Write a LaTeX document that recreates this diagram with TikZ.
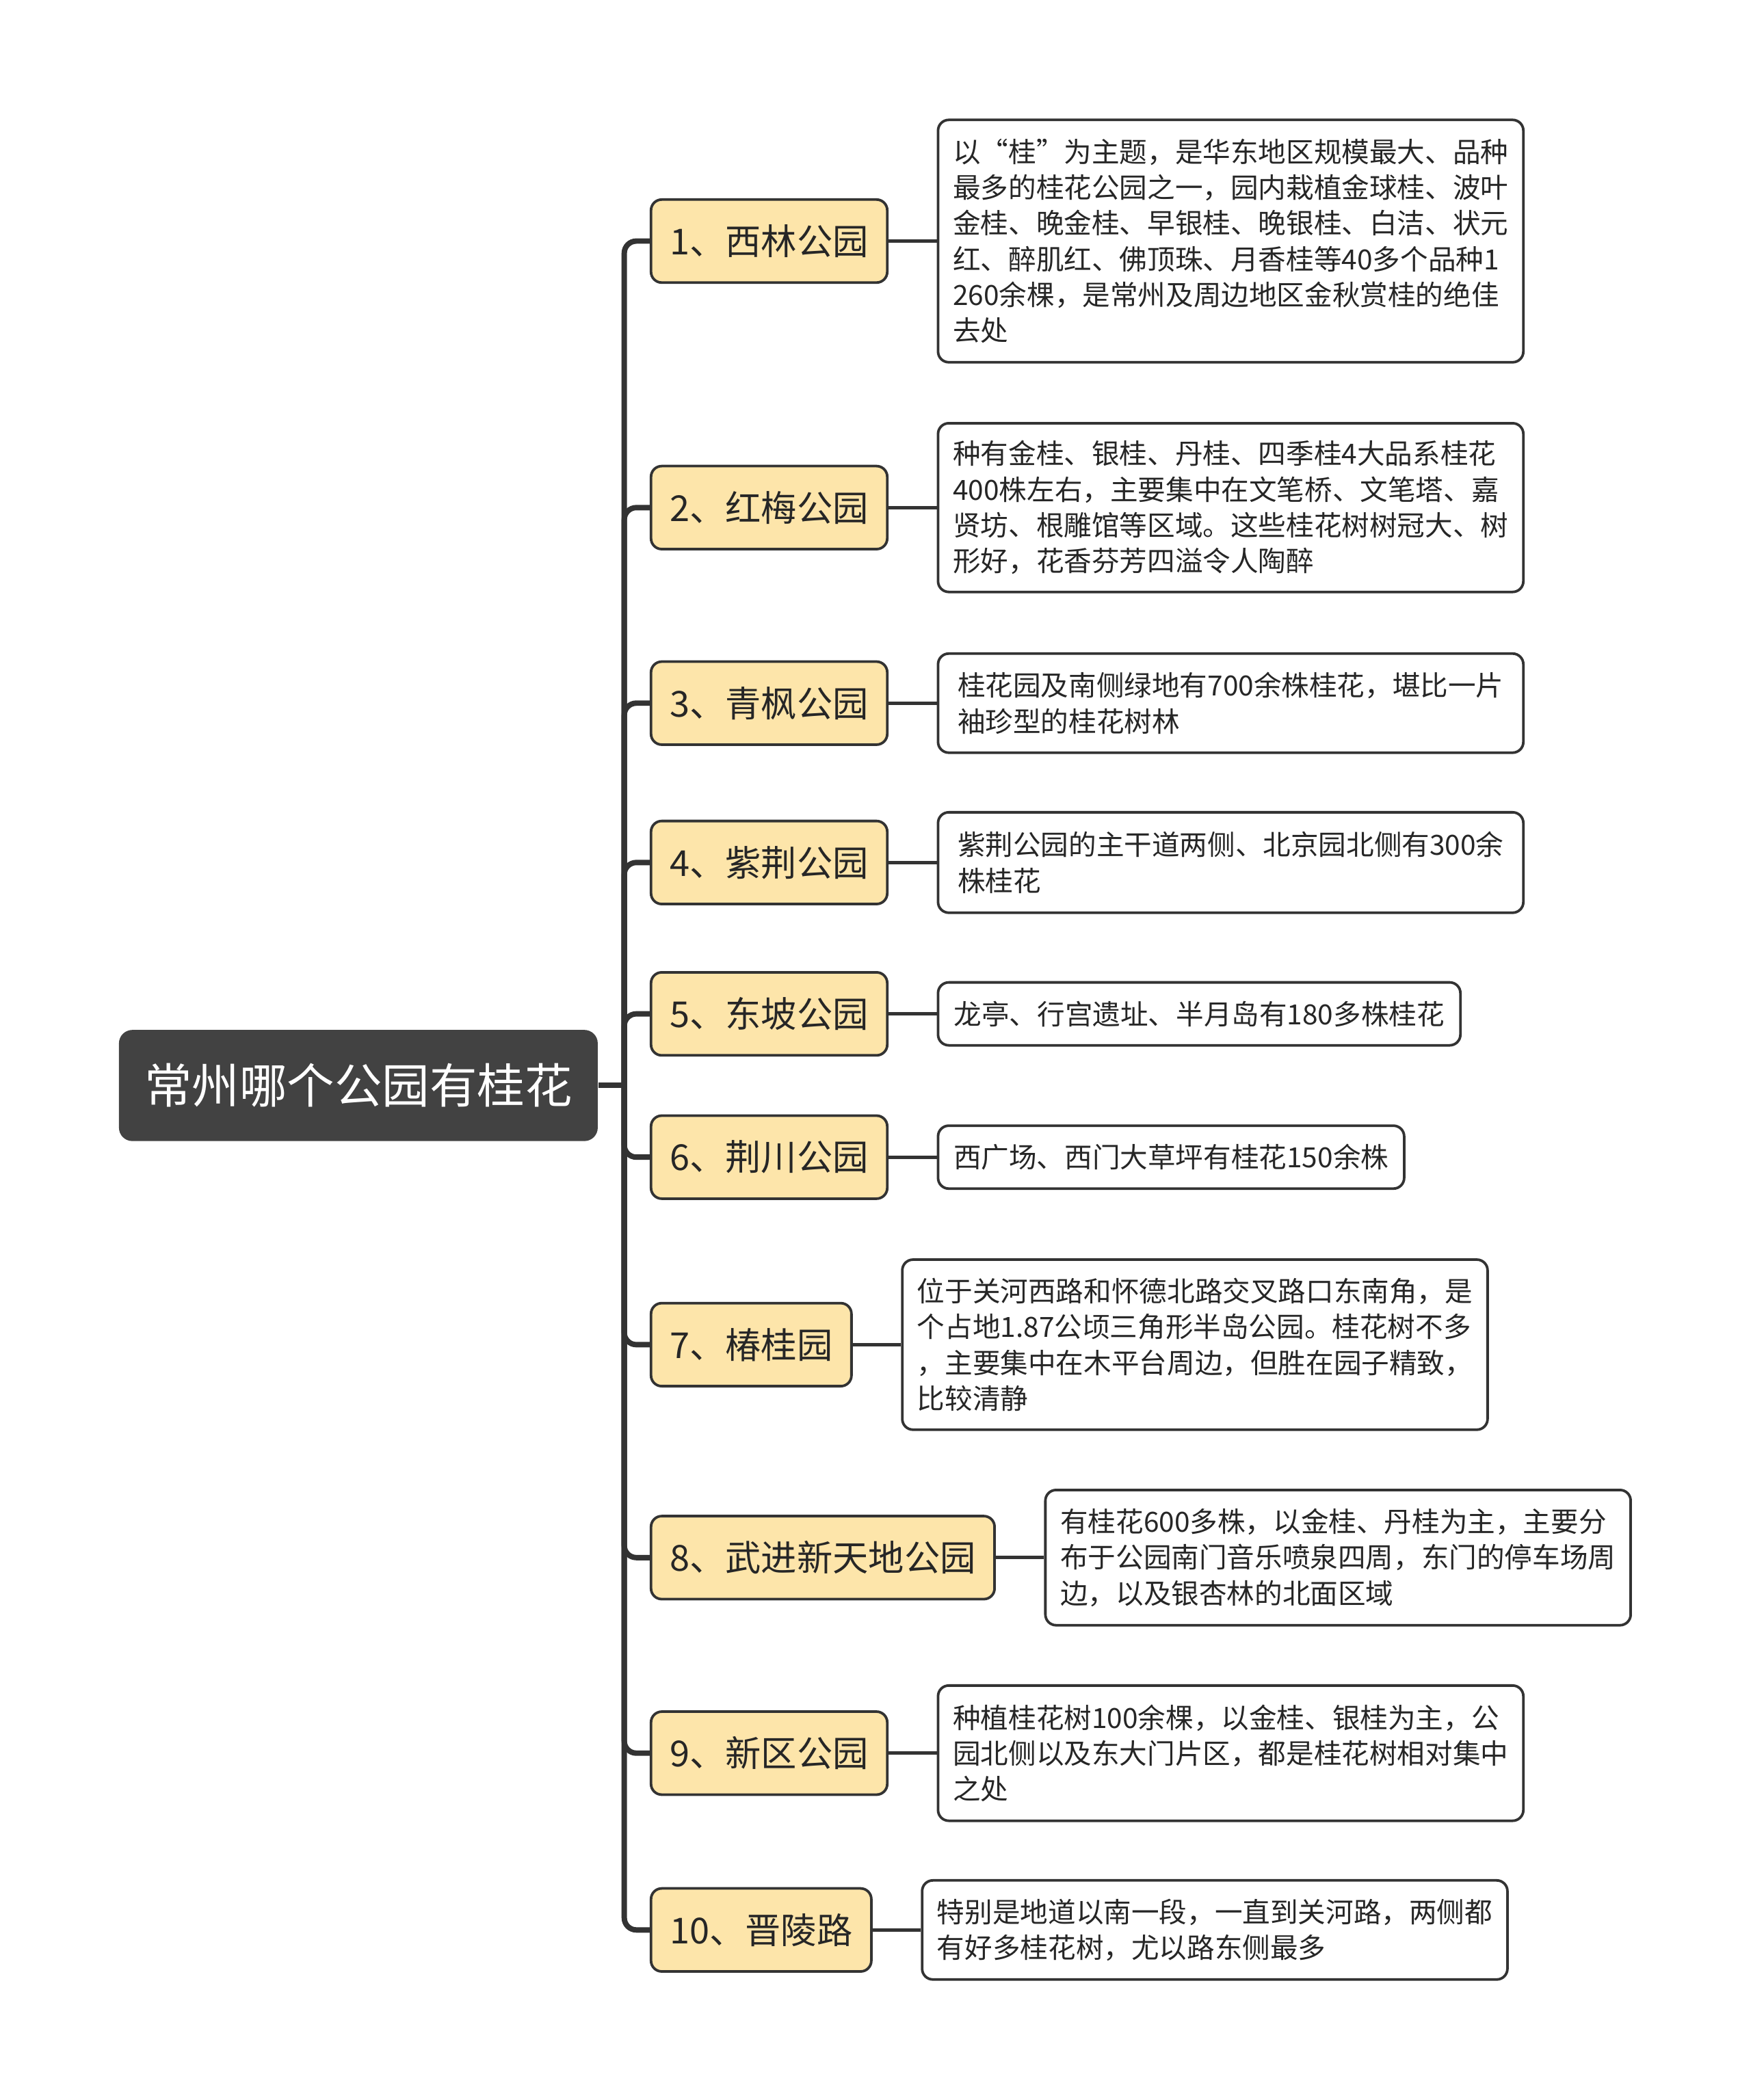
\documentclass[tikz,border=0pt]{standalone}
\usepackage{fontspec}
\setmainfont{Noto Sans CJK SC}
\usetikzlibrary{positioning}
\definecolor{rootgray}{RGB}{66,66,66}
\definecolor{linegray}{RGB}{51,51,51}
\definecolor{parkyellow}{RGB}{253,229,170}
\definecolor{textgray}{RGB}{38,38,38}

\begin{document}
\begin{tikzpicture}[x=0.02cm, y=-0.02cm,
  rootbox/.style={fill=rootgray, text=white, rounded corners=0.2cm, inner xsep=0.38cm,
    minimum width=7.14cm, minimum height=1.66cm, font=\fontsize{20.2}{24}\selectfont},
  park/.style={draw=linegray, line width=1.1pt, fill=parkyellow, text=textgray,
    rounded corners=0.16cm, inner xsep=0.28cm, minimum height=1.24cm, anchor=west,
    font=\fontsize{15.2}{18}\selectfont},
  note/.style={draw=linegray, line width=1.1pt, fill=white, text=textgray,
    rounded corners=0.16cm, inner xsep=0.22cm, inner ysep=0pt, align=left,
    minimum width=8.74cm, font=\fontsize{11.8}{15.2}\selectfont, right=0.72cm of #1},
  trunk/.style={draw=linegray, line width=2.3pt, rounded corners=0.18cm},
  twig/.style={draw=linegray, line width=1.4pt}]
  \useasboundingbox (0,0) rectangle (1307,1568);

  % central topic
  \node[rootbox] (root) at (267.5,810.5) {常州哪个公园有桂花};
  \coordinate (hub) at (466,810.5);

  % parks
  \node[park] (b1) at (485,180) {1、西林公园};
  \node[park] (b2) at (485,379) {2、红梅公园};
  \node[park] (b3) at (485,525) {3、青枫公园};
  \node[park] (b4) at (485,644) {4、紫荆公园};
  \node[park] (b5) at (485,757) {5、东坡公园};
  \node[park] (b6) at (485,864) {6、荆川公园};
  \node[park] (b7) at (485,1004) {7、椿桂园};
  \node[park] (b8) at (485,1163) {8、武进新天地公园};
  \node[park] (b9) at (485,1309) {9、新区公园};
  \node[park] (b10) at (485,1441) {10、晋陵路};

  % notes
  \node[note=b1, minimum height=3.62cm] (n1) {以“桂”为主题，是华东地区规模最大、品种\\最多的桂花公园之一，园内栽植金球桂、波叶\\金桂、晚金桂、早银桂、晚银桂、白洁、状元\\红、醉肌红、佛顶珠、月香桂等40多个品种1\\260余棵，是常州及周边地区金秋赏桂的绝佳\\去处};
  \node[note=b2, minimum height=2.52cm] (n2) {种有金桂、银桂、丹桂、四季桂4大品系桂花\\400株左右，主要集中在文笔桥、文笔塔、嘉\\贤坊、根雕馆等区域。这些桂花树树冠大、树\\形好，花香芬芳四溢令人陶醉};
  \node[note=b3, minimum height=1.48cm] (n3) {桂花园及南侧绿地有700余株桂花，堪比一片\\袖珍型的桂花树林};
  \node[note=b4, minimum height=1.5cm] (n4) {紫荆公园的主干道两侧、北京园北侧有300余\\株桂花};
  \node[note=b5, minimum height=0.94cm, minimum width=7.8cm] (n5) {龙亭、行宫遗址、半月岛有180多株桂花};
  \node[note=b6, minimum height=0.94cm, minimum width=6.96cm] (n6) {西广场、西门大草坪有桂花150余株};
  \node[note=b7, minimum height=2.54cm] (n7) {位于关河西路和怀德北路交叉路口东南角，是\\个占地1.87公顷三角形半岛公园。桂花树不多\\，主要集中在木平台周边，但胜在园子精致，\\比较清静};
  \node[note=b8, minimum height=2.02cm] (n8) {有桂花600多株，以金桂、丹桂为主，主要分\\布于公园南门音乐喷泉四周，东门的停车场周\\边，以及银杏林的北面区域};
  \node[note=b9, minimum height=2.02cm] (n9) {种植桂花树100余棵，以金桂、银桂为主，公\\园北侧以及东大门片区，都是桂花树相对集中\\之处};
  \node[note=b10, minimum height=1.48cm] (n10) {特别是地道以南一段，一直到关河路，两侧都\\有好多桂花树，尤以路东侧最多};

  % connectors
  \draw[trunk] (root.east) -- (hub);
  \foreach \i in {1,...,10} {
    \draw[trunk] (hub) |- (b\i.west);
    \draw[twig] (b\i.east) -- (n\i.west);
  }
\end{tikzpicture}
\end{document}
